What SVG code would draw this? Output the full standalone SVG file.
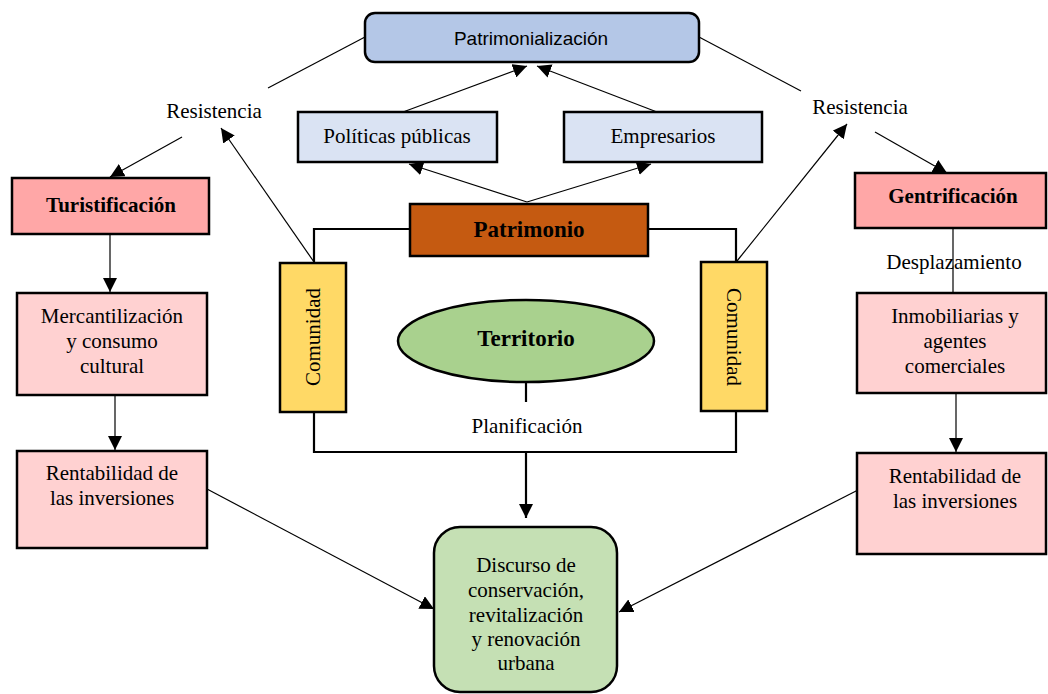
<svg xmlns="http://www.w3.org/2000/svg" width="1048" height="694" viewBox="0 0 1048 694">
<style>
.box{stroke:#000;stroke-width:2.5}
.t{font-family:"Liberation Serif","Times New Roman",serif;font-size:21px;fill:#000;text-anchor:middle}
.b{font-weight:bold}
.s{font-family:"Liberation Sans",Arial,sans-serif;font-size:19px;fill:#000;text-anchor:middle}
.ln{stroke:#000;stroke-width:1.2;fill:none}
.fr{stroke:#000;stroke-width:2.2;fill:none}
</style>
<defs>
<marker id="ah" markerUnits="userSpaceOnUse" viewBox="0 0 14 14" markerWidth="14" markerHeight="14" refX="14" refY="7" orient="auto">
<path d="M0,0 L14,7 L0,14 z" fill="#000"/>
</marker>
</defs>
<rect width="1048" height="694" fill="#fff"/>
<g id="connectors">
<line class="ln" x1="365" y1="37" x2="268" y2="88"/>
<line class="ln" x1="699" y1="37" x2="801" y2="91"/>
<line class="ln" x1="182" y1="137" x2="110" y2="177" marker-end="url(#ah)"/>
<line class="ln" x1="314" y1="262" x2="221" y2="128" marker-end="url(#ah)"/>
<line class="ln" x1="737" y1="261" x2="847" y2="124" marker-end="url(#ah)"/>
<line class="ln" x1="875" y1="132" x2="947" y2="173" marker-end="url(#ah)"/>
<line class="ln" x1="403" y1="112" x2="527" y2="66" marker-end="url(#ah)"/>
<line class="ln" x1="657" y1="112" x2="537" y2="66" marker-end="url(#ah)"/>
<line class="ln" x1="527" y1="202" x2="409" y2="164" marker-end="url(#ah)"/>
<line class="ln" x1="527" y1="202" x2="651" y2="164" marker-end="url(#ah)"/>
<line class="ln" x1="110" y1="234" x2="110" y2="292" marker-end="url(#ah)"/>
<line class="ln" x1="115" y1="395" x2="115" y2="450" marker-end="url(#ah)"/>
<line class="ln" x1="207" y1="489" x2="434" y2="609" marker-end="url(#ah)"/>
<line class="ln" x1="858" y1="490" x2="619" y2="612" marker-end="url(#ah)"/>
<polyline class="fr" points="410,229 314,229 314,262"/>
<polyline class="fr" points="314,412 314,452 736,452 736,411"/>
<polyline class="fr" points="736,262 736,229 648,229"/>
<line class="fr" x1="526" y1="383" x2="526" y2="402"/>
<line class="fr" x1="526" y1="452" x2="526" y2="518" marker-end="url(#ah)"/>
<line class="ln" x1="953" y1="228" x2="953" y2="293"/>
<line class="ln" x1="956" y1="393" x2="956" y2="452" marker-end="url(#ah)"/>
</g>
<g id="patrimonializacion">
<rect class="box" x="365" y="13" width="334" height="49" rx="10" fill="#b4c7e7"/>
<text class="s" x="531" y="45">Patrimonialización</text>
</g>
<g id="politicas">
<rect class="box" x="298" y="112" width="199" height="50" fill="#dae3f3"/>
<text class="t" x="397" y="143">Políticas públicas</text>
</g>
<g id="empresarios">
<rect class="box" x="564" y="112" width="198" height="50" fill="#dae3f3"/>
<text class="t" x="663" y="143">Empresarios</text>
</g>
<g id="resistencia-izq"><text class="t" x="214" y="118">Resistencia</text></g>
<g id="resistencia-der"><text class="t" x="860" y="114">Resistencia</text></g>
<g id="turistificacion">
<rect class="box" x="12" y="178" width="197" height="56" fill="#ffa7a7"/>
<text class="t b" x="111" y="212">Turistificación</text>
</g>
<g id="gentrificacion">
<rect class="box" x="855" y="173" width="191" height="55" fill="#ffa7a7"/>
<text class="t b" x="953" y="203">Gentrificación</text>
</g>
<g id="desplazamiento"><text class="t" x="954" y="269">Desplazamiento</text></g>
<g id="mercantilizacion">
<rect class="box" x="17" y="293" width="190" height="102" fill="#ffd1d1"/>
<text class="t" x="112" y="323">Mercantilización</text>
<text class="t" x="112" y="348">y consumo</text>
<text class="t" x="112" y="373">cultural</text>
</g>
<g id="rentabilidad-izq">
<rect class="box" x="17" y="451" width="190" height="97" fill="#ffd1d1"/>
<text class="t" x="112" y="480">Rentabilidad de</text>
<text class="t" x="112" y="505">las inversiones</text>
</g>
<g id="inmobiliarias">
<rect class="box" x="857" y="293" width="189" height="100" fill="#ffd1d1"/>
<text class="t" x="955" y="323">Inmobiliarias y</text>
<text class="t" x="955" y="348">agentes</text>
<text class="t" x="955" y="373">comerciales</text>
</g>
<g id="rentabilidad-der">
<rect class="box" x="857" y="453" width="189" height="101" fill="#ffd1d1"/>
<text class="t" x="955" y="483">Rentabilidad de</text>
<text class="t" x="955" y="508">las inversiones</text>
</g>
<g id="patrimonio">
<rect class="box" x="410" y="204" width="238" height="52" fill="#c55a11"/>
<text class="t b" x="529" y="237" style="font-size:23px">Patrimonio</text>
</g>
<g id="comunidad-izq">
<rect class="box" x="280" y="263" width="66" height="149" fill="#ffd966"/>
<text class="t" transform="translate(320,337) rotate(-90)" x="0" y="0">Comunidad</text>
</g>
<g id="comunidad-der">
<rect class="box" x="701" y="262" width="66" height="149" fill="#ffd966"/>
<text class="t" transform="translate(727,337) rotate(90)" x="0" y="0">Comunidad</text>
</g>
<g id="territorio">
<ellipse class="box" cx="526" cy="341" rx="128" ry="41" fill="#a9d18e"/>
<text class="t b" x="526" y="346" style="font-size:23px">Territorio</text>
</g>
<g id="planificacion"><text class="t" x="527" y="433">Planificación</text></g>
<g id="discurso">
<rect class="box" x="434" y="527" width="183" height="165" rx="26" fill="#c5e0b4"/>
<text class="t" x="526" y="572">Discurso de</text>
<text class="t" x="526" y="597">conservación,</text>
<text class="t" x="526" y="622">revitalización</text>
<text class="t" x="526" y="646">y renovación</text>
<text class="t" x="526" y="670">urbana</text>
</g>
</svg>
